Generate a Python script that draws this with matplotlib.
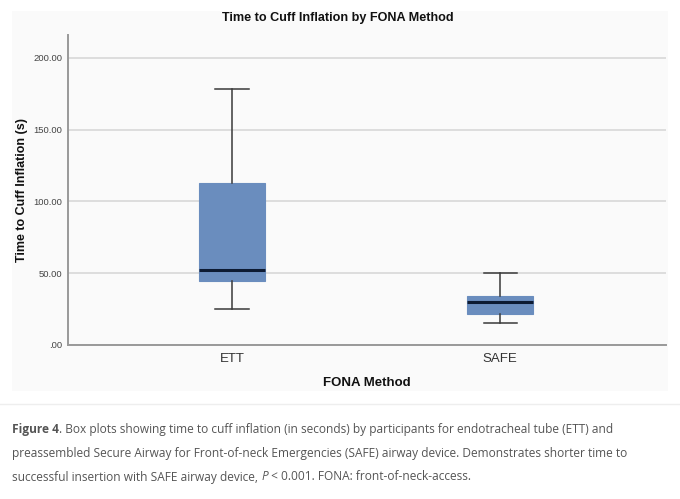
import matplotlib
matplotlib.use("Agg")
import matplotlib.pyplot as plt
from matplotlib import font_manager
from matplotlib.patches import Rectangle
from matplotlib.lines import Line2D

# ---- data ----
categories = ["ETT", "SAFE"]
whisker_low = [25.0, 15.0]
q1 = [44.5, 21.8]
median = [52.0, 30.3]
q3 = [113.0, 34.0]
whisker_high = [178.5, 50.5]
ytick_values = [0, 50, 100, 150, 200]
ytick_labels = [".00", "50.00", "100.00", "150.00", "200.00"]

names = {f.name for f in font_manager.fontManager.ttflist}
narrow = "Liberation Sans Narrow" if "Liberation Sans Narrow" in names else "Liberation Sans"

fig = plt.figure(figsize=(6.8, 4.99), dpi=100)
fig.patch.set_facecolor("white")
W, H = 680, 499

# light grey panel behind chart
fig.patches.append(Rectangle((12 / W, 1 - 391 / H), (668 - 12) / W, (391 - 11) / H,
                             transform=fig.transFigure, facecolor="#fafafa",
                             edgecolor="none", zorder=-5))
# separator line
fig.lines.append(Line2D([0, 1], [1 - 404 / H, 1 - 404 / H], transform=fig.transFigure,
                        color="#eeeeee", lw=1, zorder=-5))

ax = fig.add_axes([68 / W, 1 - 345 / H, (666 - 68) / W, (345 - 35) / H])
ax.set_facecolor("none")
ax.set_zorder(2)

stats = []
for i, c in enumerate(categories):
    stats.append(dict(label=c, whislo=whisker_low[i], q1=q1[i], med=median[i],
                      q3=q3[i], whishi=whisker_high[i], fliers=[]))

ax.bxp(stats, positions=[1, 2], widths=0.248, capwidths=0.124, patch_artist=True,
       showfliers=False,
       boxprops=dict(facecolor="#6a8dbe", edgecolor="#6a8dbe", linewidth=0.8),
       medianprops=dict(color="#0d1b33", linewidth=2.2, solid_capstyle="butt"),
       whiskerprops=dict(color="#3a3a3a", linewidth=1.1),
       capprops=dict(color="#3a3a3a", linewidth=1.1))

ax.set_xlim(0.3885, 2.618)
ax.set_ylim(0, 216)
ax.set_yticks(ytick_values)
ax.set_yticklabels(ytick_labels)
ax.set_xticks([1, 2])
ax.set_xticklabels(categories)
ax.yaxis.grid(True, color="#d8d8d8", linewidth=1.2)
ax.set_axisbelow(True)
for s in ["top", "right"]:
    ax.spines[s].set_visible(False)
for s in ["left", "bottom"]:
    ax.spines[s].set_color("#999999")
    ax.spines[s].set_linewidth(1.4)
ax.tick_params(axis="y", length=0, pad=4, labelsize=6.8, labelcolor="#444444")
ax.tick_params(axis="x", length=0, pad=6, labelsize=9.5, labelcolor="#333333")
for lab in ax.get_yticklabels() + ax.get_xticklabels():
    lab.set_fontfamily(narrow)

ax.set_ylabel("Time to Cuff Inflation (s)", fontsize=9, fontweight="bold",
              family="Liberation Sans", color="#111111")
ax.yaxis.set_label_coords((22 - 68) / (666 - 68), 0.5)
ax.yaxis.label.set_va("center")
ax.set_xlabel("FONA Method", fontsize=9.5, fontweight="bold", family=narrow,
              color="#111111")
ax.xaxis.set_label_coords(0.5, -(383 - 345) / (345 - 35))
ax.xaxis.label.set_va("center")

fig.text(338 / W, 1 - 18 / H, "Time to Cuff Inflation by FONA Method", ha="center",
         va="center", fontsize=9.1, fontweight="bold", family=narrow, color="#111111")

# caption
cap_color = "#555555"
cf = "Open Sans"
fs = 8.6
y1 = 1 - 430 / H
t = fig.text(12 / W, y1, "Figure 4", fontsize=fs, fontweight="bold", family=cf,
             color=cap_color, va="center")
fig.canvas.draw()
bb = t.get_window_extent()
fig.text(bb.x1 / W, y1, ". Box plots showing time to cuff inflation (in seconds) by participants for endotracheal tube (ETT) and",
         fontsize=fs, family=cf, color=cap_color, va="center")
fig.text(12 / W, 1 - 453 / H,
         "preassembled Secure Airway for Front-of-neck Emergencies (SAFE) airway device. Demonstrates shorter time to",
         fontsize=fs, family=cf, color=cap_color, va="center")
y3 = 1 - 477 / H
t2 = fig.text(12 / W, y3, "successful insertion with SAFE airway device, ", fontsize=fs, family=cf,
              color=cap_color, va="center")
fig.canvas.draw()
bb2 = t2.get_window_extent()
t3 = fig.text(bb2.x1 / W, y3, "P", fontsize=fs, family=cf, style="italic", color=cap_color, va="center")
fig.canvas.draw()
bb3 = t3.get_window_extent()
fig.text(bb3.x1 / W, y3, " < 0.001. FONA: front-of-neck-access.", fontsize=fs, family=cf,
         color=cap_color, va="center")

fig.savefig("out.png", dpi=100, facecolor="white")
